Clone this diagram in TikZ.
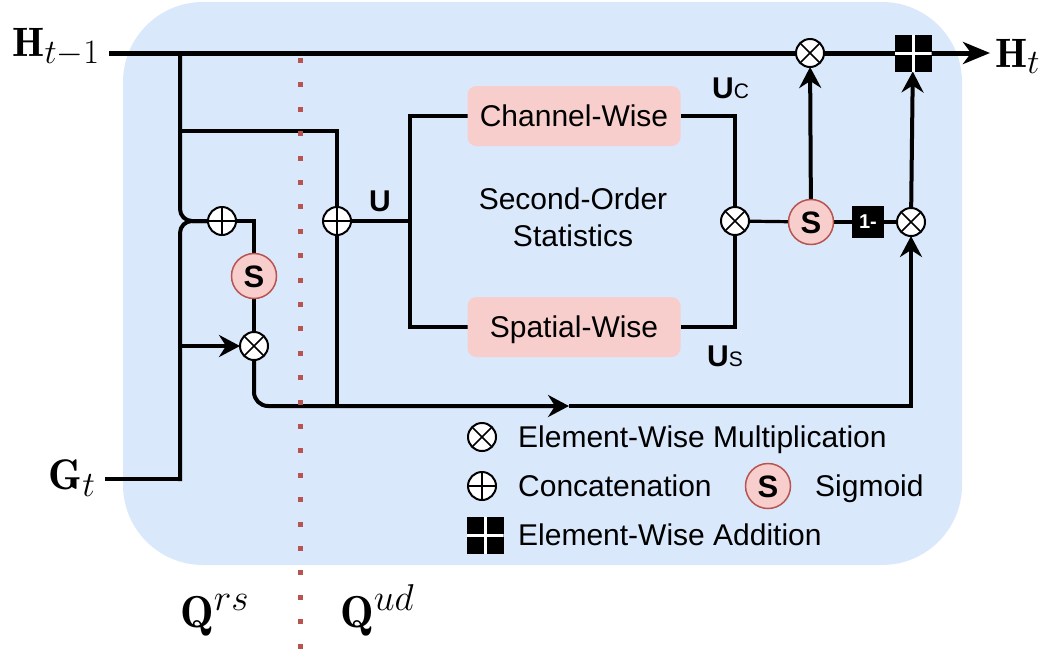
\documentclass[tikz,border=0pt]{standalone}
\usepackage{fontspec}
\newfontfamily\lsans{Liberation Sans}
\usetikzlibrary{arrows.meta}
\DeclareMathSizes{24.88}{24.88}{20.74}{17.28}
\definecolor{panel}{HTML}{DAE8FC}
\definecolor{pinkfill}{HTML}{F8CECC}
\definecolor{pinkline}{HTML}{B85450}
\newcommand{\px}[1]{\fontsize{#1}{#1}\selectfont}
\newcommand{\bigmath}[2][1.65]{\scalebox{#1}{$#2$}}
\pgfdeclarelayer{back}
\pgfdeclarelayer{wires}
\pgfsetlayers{back,wires,main}
\tikzset{
  smalltip/.tip={Stealth[length=21pt,width=22pt,inset=7pt]},
  bigtip/.tip={Stealth[length=27pt,width=22pt,inset=8pt]},
  wire/.style={line width=4pt},
  thinwire/.style={line width=3.2pt},
  mainwire/.style={line width=5pt},
  mulnode/.style={circle, draw, line width=2pt, fill=white, minimum size=28pt,
    inner sep=0pt, outer sep=0pt,
    path picture={\draw[line width=1.6pt]
      (path picture bounding box.south west) -- (path picture bounding box.north east)
      (path picture bounding box.north west) -- (path picture bounding box.south east);}},
  catnode/.style={circle, draw, line width=2pt, fill=white, minimum size=28pt,
    inner sep=0pt, outer sep=0pt,
    path picture={\draw[line width=1.6pt]
      (path picture bounding box.north) -- (path picture bounding box.south)
      (path picture bounding box.west) -- (path picture bounding box.east);}},
  signode/.style={circle, fill=pinkfill, draw=pinkline, line width=1.5pt,
    minimum size=45pt, inner sep=0pt, outer sep=0pt,
    font=\lsans\bfseries\px{31}, text height=22pt, text depth=0pt},
  addnode/.style={rectangle, fill=black, minimum size=37pt, inner sep=0pt, outer sep=0pt,
    path picture={\draw[white, line width=3pt]
      (path picture bounding box.north) -- (path picture bounding box.south)
      (path picture bounding box.west) -- (path picture bounding box.east);}},
  onebox/.style={rectangle, fill=black, minimum size=32pt, inner sep=0pt, outer sep=0pt,
    text=white, font=\lsans\bfseries\px{20}},
  stage/.style={rectangle, rounded corners=9pt, fill=pinkfill, minimum width=213pt,
    minimum height=60pt, inner sep=0pt, outer sep=0pt,
    font=\lsans\px{30}, text height=21.5pt, text depth=0pt},
  mathlbl/.style={inner sep=0pt, font=\px{24.88}},
  legend/.style={anchor=base west, inner sep=0pt, font=\lsans\px{30}},
  divider/.style={pinkline, line width=5pt, dash pattern=on 5pt off 19.4pt}
}
\begin{document}
\begin{tikzpicture}[x=1pt,y=-1pt]
\useasboundingbox (0,0) rectangle (1059,651);
\begin{pgfonlayer}{back}
  \fill[panel, rounded corners=80pt] (123,2) rectangle (962,565);
\end{pgfonlayer}

% outer labels
\node[mathlbl, anchor=base east] (Hprev) at (100,56) {\bigmath{\mathbf{H}_{t-1}}};
\node[mathlbl, anchor=base west] (Hnext) at (995,67) {\bigmath{\mathbf{H}_{t}}};
\node[mathlbl, anchor=base east] (Gt) at (96,489) {\bigmath[1.72]{\mathbf{G}_{t}}};
\node[mathlbl, anchor=base west] (Qrs) at (180,627) {\bigmath[1.8]{\mathbf{Q}^{rs}}};
\node[mathlbl, anchor=base west] (Qud) at (340,627) {\bigmath[1.8]{\mathbf{Q}^{ud}}};

% wire end points and junctions
\coordinate (hin) at (109,53);
\coordinate (hout) at (990,53);
\coordinate (jH) at (180,53);
\coordinate (jH2) at (180,131);
\coordinate (gin) at (105,479);
\coordinate (jG) at (180,479);
\coordinate (jG2) at (180,346);
\coordinate (jU) at (410,221);
\coordinate (jA) at (569,406);

% operators
\node[mulnode] (m1) at (810,53) {};
\node[addnode] (add1) at (913,53) {};
\node[signode] (S2) at (811,222) {S};
\node[onebox] (onem) at (868,222) {1-};
\node[mulnode] (m2) at (911,222) {};
\node[mulnode] (m3) at (735,221) {};
\node[stage] (cw) at (574,116) {Channel-Wise};
\node[stage] (sw) at (574,327) {Spatial-Wise};
\node[catnode] (c2) at (337,221) {};
\node[catnode] (c1) at (222,221) {};
\node[signode] (S1) at (254,276) {S};
\node[mulnode] (m4) at (254,346) {};

% inner labels
\node[anchor=base, inner sep=0pt, font=\lsans\bfseries\px{30}] (lblU) at (380,211) {U};
\node[anchor=base west, inner sep=0pt] (lblUc) at (712,98)
  {{\lsans\bfseries\px{30}U}{\lsans\px{21}C}};
\node[anchor=base west, inner sep=0pt] (lblUs) at (707,366)
  {{\lsans\bfseries\px{30}U}{\lsans\px{21}S}};
\node[anchor=north, inner sep=0pt, align=center, font=\lsans\fontsize{30}{37}\selectfont]
  (sos) at (573,188) {Second-Order\\Statistics};

% connectors
\begin{pgfonlayer}{wires}
  \draw[mainwire] (hin) -- (m1) -- (add1);
  \draw[mainwire, -{bigtip}] (add1) -- (hout);
  \draw[wire, rounded corners=12pt] (jH) |- (c1.west);
  \draw[wire] (jH2) -| (c2.north);
  \draw[wire] (gin) -- (jG);
  \draw[wire, line cap=rect, rounded corners=12pt] (jG) |- (c1.west);
  \draw[wire, -{smalltip}] (jG2) -- (m4.west);
  \draw[thinwire] (c1.east) -| (S1.north);
  \draw[thinwire] (S1) -- (m4);
  \draw[wire, rounded corners=14pt, -{smalltip}] (m4.south) |- (jA);
  \draw[wire, -{smalltip}] (jA) -| (m2.south);
  \draw[wire] (c2.south) -- (c2.south |- jA);
  \draw[wire] (c2) -- (jU);
  \draw[wire] (cw.west) -| (jU) |- (sw.west);
  \draw[wire] (cw.east) -| (m3.north);
  \draw[wire] (sw.east) -| (m3.south);
  \draw[thinwire] (m3) -- (S2);
  \draw[thinwire] (S2) -- (onem);
  \draw[thinwire] (onem) -- (m2);
  \draw[wire, -{smalltip}] (S2) -- (m1);
  \draw[wire, -{smalltip}] (m2) -- (add1);
\end{pgfonlayer}

% region divider
\draw[divider] (300,58) -- (300,651);

% legend
\node[mulnode] (lgm) at (482,437) {};
\node[legend] (lgmt) at (518,447) {Element-Wise Multiplication};
\node[catnode] (lgc) at (482,486) {};
\node[legend] (lgct) at (518,496) {Concatenation};
\node[signode] (lgs) at (768,486) {S};
\node[legend] (lgst) at (815,496) {Sigmoid};
\node[addnode] (lga) at (485,535) {};
\node[legend] (lgat) at (518,545) {Element-Wise Addition};
\end{tikzpicture}
\end{document}
